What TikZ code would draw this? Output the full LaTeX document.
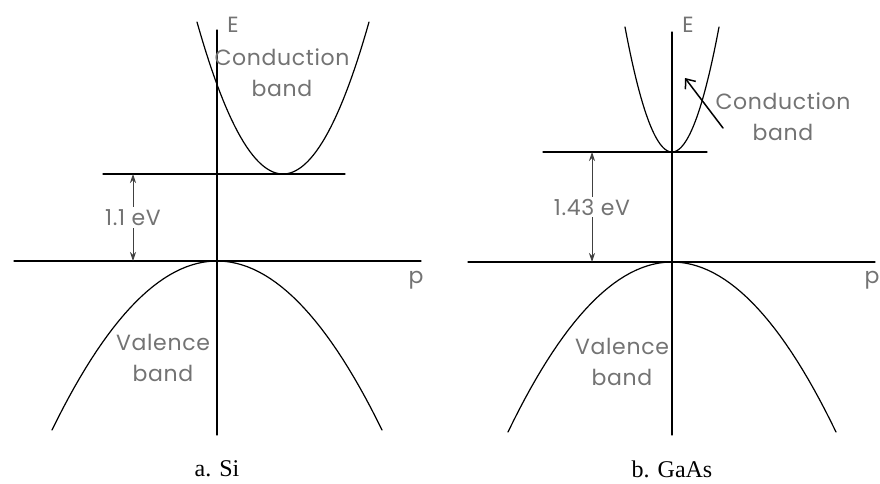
\documentclass[tikz,border=0pt]{standalone}
\usepackage{fontspec}
\setmainfont{Liberation Serif}
\newfontfamily\bandfont[LetterSpace=3]{Poppins}
\usetikzlibrary{arrows.meta}
\begin{document}
\begin{tikzpicture}[x=1pt,y=-1pt,line join=round,line cap=round,>=stealth,line width=1.2pt]
	\tikzset{every node/.style={font=\bandfont\fontsize{22}{31}\selectfont,text=black!55,align=center,inner sep=1pt}}
	\tikzset{caption/.style={font=\rmfamily\fontsize{24}{26}\selectfont,text=black}}
	\tikzset{gap/.style={{Stealth[length=9pt,width=6pt]}-{Stealth[length=9pt,width=6pt]},line width=0.9pt,black!75}}
	\useasboundingbox (0,0) rectangle (880,483);
	% a. Si
	\coordinate (ESiTop) at (217,30);
	\coordinate (ESiBot) at (217,435);
	\coordinate (pSiL) at (14,261);
	\coordinate (pSiR) at (421,261);
	\coordinate (cSiL) at (103,174);
	\coordinate (cSiR) at (345,174);
	\draw (ESiBot) -- (ESiTop);
	\draw (pSiL) -- (pSiR);
	\draw (cSiL) -- (cSiR);
	\draw plot[domain=-86:86,samples=60] ({283+\x},{174-152*(\x/86)^2});
	\draw plot[domain=-165:165,samples=60] ({217+\x},{261+169*(\x/165)^2});
	\draw[gap] (133,174) coordinate (gSiT) -- (133,261) coordinate (gSiB)
		node[midway,fill=white,inner sep=2pt] (gapSi) {1.1 eV};
	\node (ESi) at (233,25) {E};
	\node (pSi) at (416,280) {p};
	\node (cbSi) at (282,73) {Conduction\\band};
	\node (vbSi) at (163,358) {Valence\\band};
	\node[caption] (capSi) at (217,469) {a. Si};
	% b. GaAs
	\coordinate (EGaTop) at (672,32);
	\coordinate (EGaBot) at (672,435);
	\coordinate (pGaL) at (468,262);
	\coordinate (pGaR) at (875,262);
	\coordinate (cGaL) at (543,152);
	\coordinate (cGaR) at (707,152);
	\draw (EGaBot) -- (EGaTop);
	\draw (pGaL) -- (pGaR);
	\draw (cGaL) -- (cGaR);
	\draw plot[domain=-47:47,samples=60] ({672+\x},{152-125*(\x/47)^2});
	\draw plot[domain=-164:164,samples=60] ({672+\x},{262+170*(\x/164)^2});
	\draw[gap] (592,152) coordinate (gGaT) -- (592,262) coordinate (gGaB)
		node[midway,fill=white,inner sep=2pt] (gapGa) {1.43 eV};
	\node (EGa) at (688,25) {E};
	\node (pGa) at (872,280) {p};
	\node (cbGa) at (783,117) {Conduction\\band};
	\node (vbGa) at (622,362) {Valence\\band};
	\node[caption] (capGa) at (672,469) {b. GaAs};
	\coordinate (tailGa) at (723,128);
	\coordinate (tipGa) at (685,78);
	\draw[-{Straight Barb[length=8pt,width=13pt]},line width=1.5pt] (tailGa) -- (tipGa);
\end{tikzpicture}
\end{document}
